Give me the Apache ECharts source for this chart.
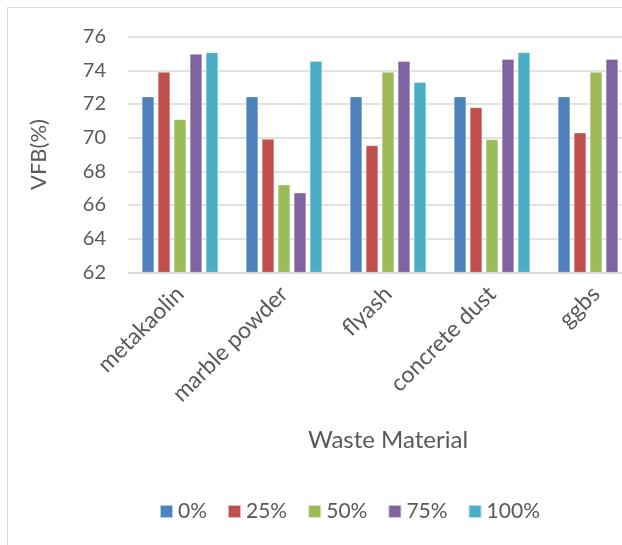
<!DOCTYPE html>
<html><head><meta charset="utf-8">
<script src="https://cdn.jsdelivr.net/npm/echarts@6/dist/echarts.min.js"></script>
<style>html,body{margin:0;padding:0;background:#fff;overflow:hidden}
#wrap{width:622px;height:545px;position:relative;overflow:hidden}
#c{width:650px;height:545px;position:absolute;left:0;top:0}
#frame{position:absolute;left:7px;top:7px;width:700px;height:600px;border:1.5px solid #d9d9d9;box-sizing:border-box;pointer-events:none}</style>
</head><body><div id="wrap"><div id="c"></div><div id="frame"></div></div>
<script>
const categories = ['metakaolin','marble powder','flyash','concrete dust','ggbs'];
const seriesNames = ['0%','25%','50%','75%','100%'];
const s0 = [72.44, 72.44, 72.44, 72.44, 72.44];
const s25 = [73.9, 69.92, 69.54, 71.8, 70.3];
const s50 = [71.09, 67.21, 73.9, 69.9, 73.9];
const s75 = [74.97, 66.73, 74.55, 74.67, 74.67];
const s100 = [75.07, 74.55, 73.29, 75.07, 75.07];
const yTicks = [62,64,66,68,70,72,74,76];
const colors = ['#4F81BD','#C0504D','#9BBB59','#8064A2','#4BACC6'];
const allSeries = [s0,s25,s50,s75,s100];
const FONT = 'Lato';
const chart = echarts.init(document.getElementById('c'), null, {renderer:'canvas'});
chart.setOption({
  animation:false,
  color: colors,
  textStyle:{fontFamily:FONT},
  grid:{left:128, right:2, top:36.7, bottom:272.7, containLabel:false},
  legend:{
    data: seriesNames, left:159, top:501, padding:0, itemWidth:13, itemHeight:13, itemGap:20,
    icon:'rect', textStyle:{fontSize:21, color:'#595959', fontFamily:FONT}
  },
  xAxis:{
    type:'category', data:categories,
    name:'Waste Material', nameLocation:'middle', nameGap:156,
    nameTextStyle:{fontSize:24, color:'#595959', fontFamily:FONT},
    axisLine:{lineStyle:{color:'#d9d9d9', width:1.5}},
    axisTick:{show:false},
    axisLabel:{rotate:45, fontSize:23, color:'#595959', margin:18, interval:0}
  },
  yAxis:{
    type:'value', min:yTicks[0], max:yTicks[yTicks.length-1], interval:2,
    name:'VFB(%)', nameLocation:'middle', nameGap:78,
    nameTextStyle:{fontSize:22, color:'#595959', fontFamily:FONT},
    axisLine:{show:false}, axisTick:{show:false},
    axisLabel:{fontSize:20, color:'#595959', margin:22},
    splitLine:{lineStyle:{color:'#d9d9d9', width:1.5}}
  },
  series: allSeries.map((d,i)=>({
    name: seriesNames[i], type:'bar', data:d, barWidth:12.3, barGap:'30%',
    itemStyle:{color:colors[i], borderColor:'rgba(255,255,255,0.6)', borderWidth:0.6}
  }))
});
</script></body></html>
